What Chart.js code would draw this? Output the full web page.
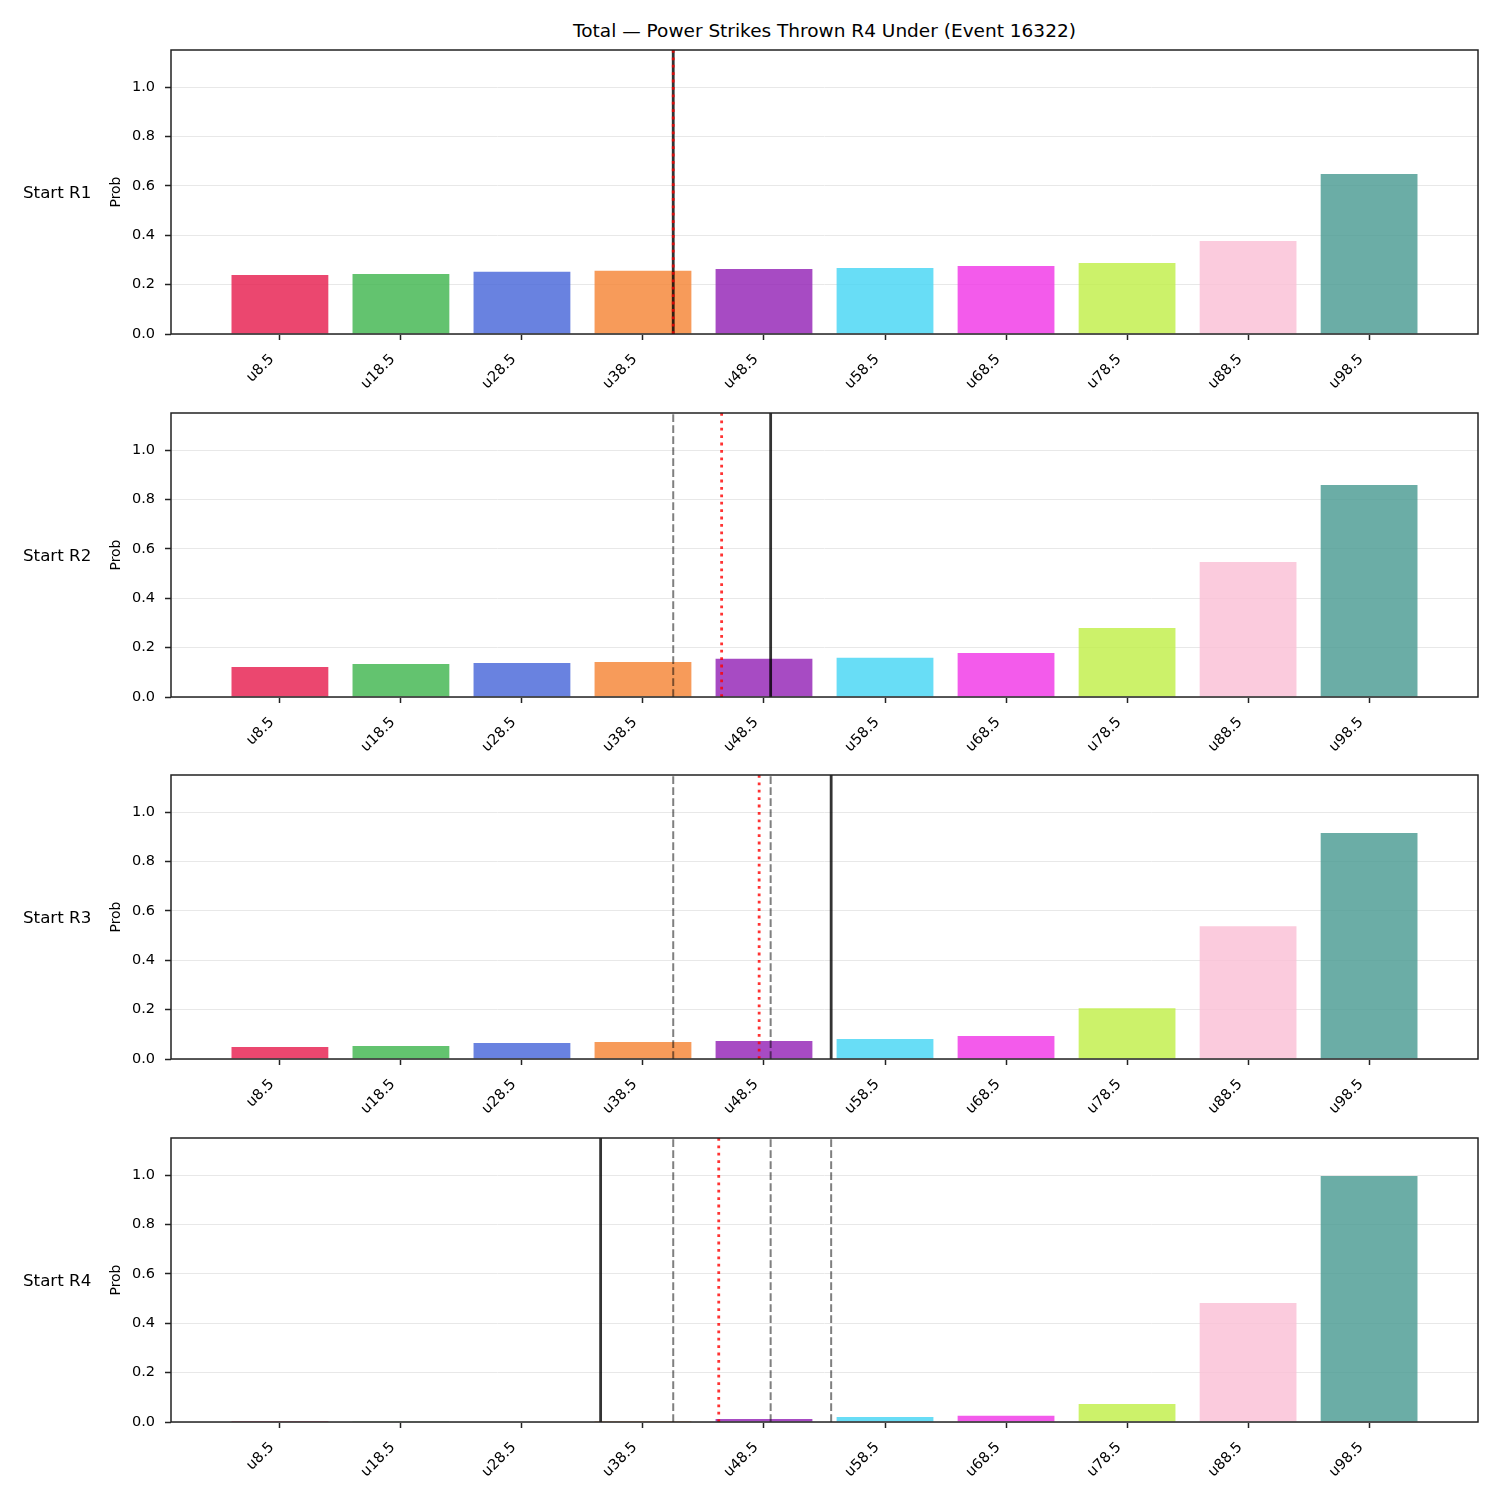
<!DOCTYPE html>
<html>
<head>
<meta charset="utf-8">
<script src="https://cdn.jsdelivr.net/npm/chart.js@4.4.0/dist/chart.umd.min.js"></script>
<style>
body { margin: 0; background: #fff; font-family: 'DejaVu Sans', sans-serif; }
#wrap { position: relative; width: 1500px; height: 1500px; }
.panel { position: absolute; left: 0; }
.rowlabel { position: absolute; left: 23px; font-size: 16.7px; color: #000; transform: translateY(-50%); white-space: nowrap; }
#title { position: absolute; left: 171px; width: 1307px; top: 19px; text-align: center; font-size: 18.5px; color: #000; line-height: 24px; }
</style>
</head>
<body>
<div id="wrap">
  <div id="title">Total — Power Strikes Thrown R4 Under (Event 16322)</div>
</div>
<script>
const buckets = ['u8.5', 'u18.5', 'u28.5', 'u38.5', 'u48.5', 'u58.5', 'u68.5', 'u78.5', 'u88.5', 'u98.5'];
const barColors = [
    'rgba(230,25,75,0.8)', 'rgba(60,180,75,0.8)', 'rgba(67,99,216,0.8)', 'rgba(245,130,49,0.8)',
    'rgba(145,30,180,0.8)', 'rgba(66,212,244,0.8)', 'rgba(240,50,230,0.8)', 'rgba(191,239,69,0.8)',
    'rgba(250,190,212,0.8)', 'rgba(70,153,144,0.8)'
];
const roundNames = ['Start R1', 'Start R2', 'Start R3', 'Start R4'];

// under-probabilities per starting round
const probR1 = [0.239, 0.243, 0.252, 0.256, 0.263, 0.267, 0.275, 0.287, 0.377, 0.648];
const probR2 = [0.121, 0.134, 0.138, 0.142, 0.155, 0.159, 0.178, 0.279, 0.547, 0.858];
const probR3 = [0.049, 0.053, 0.065, 0.069, 0.073, 0.081, 0.093, 0.206, 0.538, 0.915];
const probR4 = [0.0005, 0.001, 0.002, 0.004, 0.012, 0.020, 0.025, 0.073, 0.482, 0.996];
const probs = [probR1, probR2, probR3, probR4];

// marker positions (in bucket units): current line per round, projection per round
const currentMarks = [3.25, 4.055, 4.555, 2.65];
const projMarks = [3.25, 3.65, 3.96, 3.626];

const yTicks = [0, 0.2, 0.4, 0.6, 0.8, 1.0];
const yMax = 1.15;

const frame = {
    id: 'frame',
    afterDatasetsDraw(chart) {
        const { ctx, chartArea: a } = chart;
        ctx.save();
        ctx.strokeStyle = '#222';
        ctx.lineWidth = 1.5;
        ctx.strokeRect(a.left, a.top, a.right - a.left, a.bottom - a.top);
        ctx.restore();
    }
};

function vline(x, color, width, dash) {
    return {
        type: 'line',
        data: [{ x: x, y: 0 }, { x: x, y: yMax }],
        borderColor: color,
        borderWidth: width,
        borderDash: dash,
        pointRadius: 0,
        fill: false
    };
}

const wrap = document.getElementById('wrap');
const plotTops = [50, 413, 775, 1138];

probs.forEach((vals, r) => {
    const canvas = document.createElement('canvas');
    canvas.className = 'panel';
    canvas.width = 1500;
    canvas.height = 362;
    canvas.style.top = (plotTops[r] - 10) + 'px';
    wrap.appendChild(canvas);

    const lab = document.createElement('div');
    lab.className = 'rowlabel';
    lab.textContent = roundNames[r];
    lab.style.top = (plotTops[r] + 142) + 'px';
    wrap.appendChild(lab);

    const datasets = [];
    datasets.push(vline(projMarks[r], 'rgba(255,0,0,0.8)', 2.8, [2.8, 4.6]));
    datasets.push(vline(currentMarks[r], 'rgba(0,0,0,0.8)', 2.8, []));
    for (let p = 0; p < r; p++) {
        datasets.push(vline(currentMarks[p], 'rgba(0,0,0,0.5)', 2, [7.7, 3.3]));
    }
    datasets.push({
        type: 'bar',
        data: vals.map((v, i) => ({ x: i, y: v })),
        backgroundColor: barColors,
        borderWidth: 0,
        barPercentage: 0.8,
        categoryPercentage: 1.0
    });

    new Chart(canvas.getContext('2d'), {
        type: 'bar',
        data: { datasets: datasets },
        options: {
            responsive: false,
            animation: false,
            devicePixelRatio: 1,
            layout: { padding: { left: 100, top: 10, right: 22, bottom: 0 } },
            plugins: { legend: { display: false }, tooltip: { enabled: false } },
            scales: {
                x: {
                    type: 'linear',
                    min: -0.9,
                    max: 9.9,
                    offset: false,
                    afterFit: s => { s.height = 68; s.paddingLeft = 0; s.paddingRight = 0; },
                    afterBuildTicks: s => { s.ticks = buckets.map((_, i) => ({ value: i })); },
                    border: { display: false },
                    grid: { display: true, offset: false, drawOnChartArea: false, drawTicks: true, tickLength: 6, tickWidth: 1.5, tickColor: '#222' },
                    ticks: {
                        callback: v => buckets[v],
                        maxRotation: 45,
                        minRotation: 45,
                        padding: 11,
                        labelOffset: -8,
                        color: '#000',
                        font: { family: 'DejaVu Sans', size: 14.5 }
                    }
                },
                y: {
                    min: 0,
                    max: yMax,
                    afterFit: s => { s.width = 71; s.paddingTop = 0; s.paddingBottom = 0; },
                    afterBuildTicks: s => { s.ticks = yTicks.map(v => ({ value: v })); },
                    border: { display: false },
                    grid: { color: '#e8e8e8', lineWidth: 1, tickLength: 6, tickWidth: 1.5, tickColor: '#222' },
                    ticks: {
                        callback: v => v.toFixed(1),
                        padding: 10,
                        color: '#000',
                        font: { family: 'DejaVu Sans', size: 14.5 }
                    },
                    title: {
                        display: true,
                        text: 'Prob',
                        color: '#000',
                        padding: { top: 8, bottom: 0 },
                        font: { family: 'DejaVu Sans', size: 13.9 }
                    }
                }
            }
        },
        plugins: [frame]
    });
});
</script>
</body>
</html>
